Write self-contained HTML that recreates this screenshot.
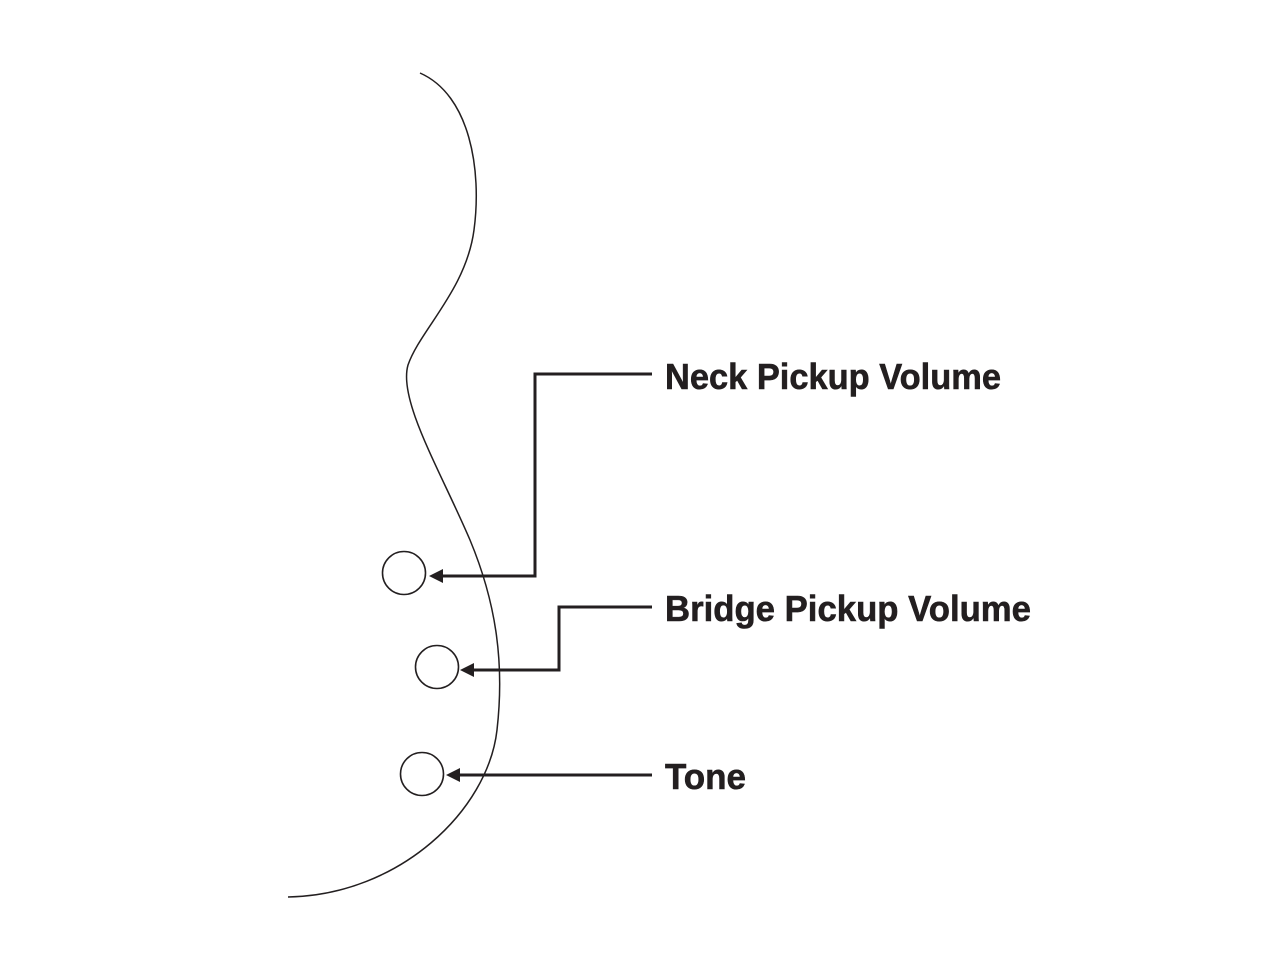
<!DOCTYPE html>
<html><head><style>html,body{margin:0;padding:0;background:#fff;}</style></head>
<body>
<svg width="1280" height="960" xmlns="http://www.w3.org/2000/svg">
<rect width="1280" height="960" fill="#fff"/>
<path d="M420,73 C470,95 482,170 474,230 C466,290 420,330 408,365 C398,400 440,470 470,540 C495,600 505,660 497,730 C488,810 400,895 288,897" fill="none" stroke="#231f20" stroke-width="1.5"/>
<g fill="none" stroke="#231f20" stroke-width="1.6">
<circle cx="404" cy="573" r="21.5"/>
<circle cx="437" cy="667" r="21.5"/>
<circle cx="422" cy="774" r="21.5"/>
</g>
<g fill="none" stroke="#231f20" stroke-width="3">
<polyline points="652,374 535,374 535,576 438,576"/>
<polyline points="652,607 559,607 559,670 470,670"/>
<polyline points="652,775 455,775"/>
</g>
<g fill="#231f20">
<polygon points="429,576 443,569 443,583"/>
<polygon points="460,670 474,663 474,677"/>
<polygon points="446,775 460,768 460,782"/>
</g>
<g font-family="Liberation Sans, sans-serif" font-weight="bold" font-size="36" fill="#231f20" stroke="#231f20" stroke-width="0.6">
<text x="665" y="389" textLength="336" lengthAdjust="spacingAndGlyphs">Neck Pickup Volume</text>
<text x="665" y="621" textLength="366" lengthAdjust="spacingAndGlyphs">Bridge Pickup Volume</text>
<text x="665" y="789" textLength="81" lengthAdjust="spacingAndGlyphs">Tone</text>
</g>
</svg>
</body></html>
